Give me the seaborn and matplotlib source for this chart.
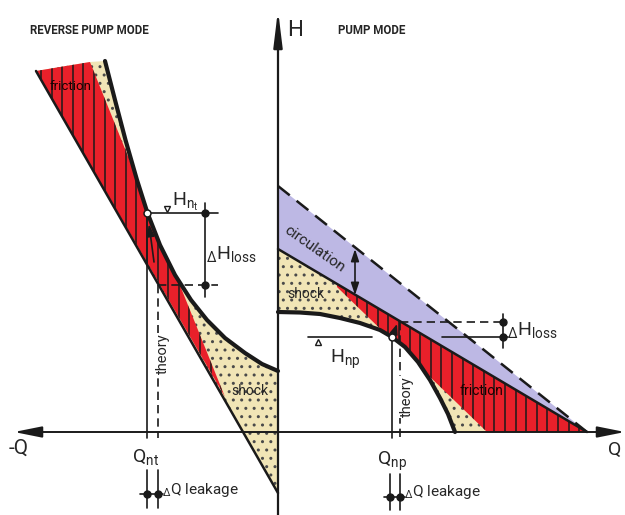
import numpy as np
import matplotlib
matplotlib.use('Agg')
import matplotlib.pyplot as plt
import seaborn as sns

# ---------------- data (schematic units: x to the right, y downward) ----------------
# Reverse pump mode (left half)
rev_theory_x = [36, 278]
rev_theory_y = [71, 493]
rev_friction_x = [90, 225]
rev_friction_y = [62, 397]
rev_curve_x = [105, 115, 125.5, 137, 147.5, 160, 175, 191, 207, 225, 245, 262, 278]
rev_curve_y = [61, 100, 140, 180, 213, 245, 275, 300, 320, 338, 353, 364, 371]

# Pump mode (right half)
pump_circ_x = [278, 587]
pump_circ_y = [186, 432]
pump_theory_x = [278, 587]
pump_theory_y = [249, 432]
pump_friction_x = [337, 487]
pump_friction_y = [287, 432]
pump_curve_x = [278, 300, 320, 340, 360, 380, 392, 405, 418, 430, 440, 448, 455]
pump_curve_y = [312, 312.5, 314, 318, 323, 330, 337, 347, 362, 380, 398, 414, 432]

# Axes / operating points
q_axis_y = 432
h_axis_x = 278
rev_Qn, rev_Qth = 147, 158
rev_Hn, rev_Hth = 213, 285
rev_dH_x = 205
pump_Qn, pump_Qth = 392, 400
pump_Hn, pump_Hth = 337, 322
pump_dH_x = 503
leak_y = 494

RED = '#e8202a'
BEIGE = '#f1e5b6'
LAV = '#bdb8e4'

sns.set_theme(style='white')
plt.rcParams['font.family'] = ['Roboto', 'DejaVu Sans']
plt.rcParams['mathtext.fontset'] = 'custom'
plt.rcParams['mathtext.rm'] = 'Roboto'
plt.rcParams['mathtext.it'] = 'Roboto'
plt.rcParams['mathtext.bf'] = 'Roboto:bold'
plt.rcParams['hatch.linewidth'] = 1.0

fig = plt.figure(figsize=(6.25, 5.15), dpi=100)
ax = fig.add_axes([0, 0, 1, 1])
ax.set_xlim(0, 625)
ax.set_ylim(515, 0)
ax.axis('off')

# ---------------- left: shock (beige) ----------------
lbx = [rev_theory_x[0], rev_friction_x[0]] + rev_curve_x + [h_axis_x, rev_theory_x[1]]
lby = [rev_theory_y[0], rev_friction_y[0]] + rev_curve_y + [rev_theory_y[1], rev_theory_y[1]]
ax.fill(lbx, lby, facecolor=BEIGE, edgecolor='#4a4a4a', lw=0, hatch='..', zorder=1)

# left: friction (red)
ys = np.linspace(rev_friction_y[0], rev_friction_y[1], 300)
l2x = np.interp(ys, rev_friction_y, rev_friction_x)
cx = np.interp(ys, rev_curve_y, rev_curve_x)
rx = np.minimum(l2x, cx)
lrx = [rev_theory_x[0]] + list(rx)
lry = [rev_theory_y[0]] + list(ys)
red_left = ax.fill(lrx, lry, facecolor=RED, lw=0, zorder=2)[0]
hl = ax.vlines(np.arange(41, 226, 10.6), 0, 515, colors='k', lw=1.1, zorder=3)
hl.set_clip_path(red_left)

# ---------------- right: circulation (lavender) ----------------
xr = np.linspace(pump_circ_x[0], pump_circ_x[1], 300)
c_top = np.interp(xr, pump_circ_x, pump_circ_y)
t_line = np.interp(xr, pump_theory_x, pump_theory_y)
ax.fill(list(xr) + list(xr[::-1]), list(c_top) + list(t_line[::-1]),
        facecolor=LAV, lw=0, zorder=1)

# right: shock (beige)
cv = np.minimum(np.interp(xr, pump_curve_x, pump_curve_y), q_axis_y)
ax.fill(list(xr) + list(xr[::-1]), list(t_line) + list(cv[::-1]),
        facecolor=BEIGE, edgecolor='#4a4a4a', lw=0, hatch='..', zorder=1)

# right: friction (red)
xf = np.linspace(pump_friction_x[0], pump_circ_x[1], 300)
f_top = np.interp(xf, pump_theory_x, pump_theory_y)
f_bot = np.minimum(np.minimum(np.interp(xf, pump_friction_x, pump_friction_y),
                              np.interp(xf, pump_curve_x, pump_curve_y)), q_axis_y)
red_right = ax.fill(list(xf) + list(xf[::-1]), list(f_top) + list(f_bot[::-1]),
                    facecolor=RED, lw=0, zorder=2)[0]
hr = ax.vlines(np.arange(346, 587, 10.6), 0, 515, colors='k', lw=1.1, zorder=3)
hr.set_clip_path(red_right)

# ---------------- main lines ----------------
sns.lineplot(x=rev_theory_x, y=rev_theory_y, ax=ax, color='k', lw=1.8, sort=False, estimator=None, zorder=5)
sns.lineplot(x=rev_curve_x, y=rev_curve_y, ax=ax, color='k', lw=3.0, sort=False, estimator=None, zorder=5)
sns.lineplot(x=pump_circ_x, y=pump_circ_y, ax=ax, color='k', lw=1.8, sort=False, estimator=None,
             linestyle=(0, (6, 3.5)), zorder=5)
sns.lineplot(x=pump_theory_x, y=pump_theory_y, ax=ax, color='k', lw=1.8, sort=False, estimator=None, zorder=5)
sns.lineplot(x=pump_curve_x, y=pump_curve_y, ax=ax, color='k', lw=3.0, sort=False, estimator=None, zorder=5)

# ---------------- axes ----------------
ax.annotate('', xy=(14, q_axis_y), xytext=(625, q_axis_y),
            arrowprops=dict(arrowstyle='<|-|>,head_length=1.4,head_width=0.28', lw=1.4, color='k',
                            shrinkA=0, shrinkB=0), zorder=6)
ax.annotate('', xy=(h_axis_x, 10), xytext=(h_axis_x, 515),
            arrowprops=dict(arrowstyle='-|>,head_length=1.8,head_width=0.22', lw=1.6, color='k',
                            shrinkA=0, shrinkB=0), zorder=6)

dash = (0, (5, 3))
kw = dict(color='k', lw=1.2, zorder=6)
# left operating point construction
ax.plot([rev_Qn, rev_Qn], [rev_Hn, 438], **kw)
ax.plot([rev_Qth, rev_Qth], [rev_Hth, 438], ls=dash, **kw)
ax.plot([rev_Qn, 218], [rev_Hn, rev_Hn], **kw)
ax.plot([rev_Qth, 218], [rev_Hth, rev_Hth], ls=dash, **kw)
ax.plot([rev_dH_x, rev_dH_x], [203, 297], **kw)
ax.plot([rev_dH_x, rev_dH_x], [rev_Hn, rev_Hth], 'o', color='k', ms=5, zorder=7)
ax.plot([167], [209], 'v', mfc='white', mec='k', ms=4.5, mew=1, zorder=7)
ax.annotate('', xy=(149, 224), xytext=(154, 262),
            arrowprops=dict(arrowstyle='-|>,head_length=0.6,head_width=0.2', lw=1.2, color='k',
                            shrinkA=0, shrinkB=0), zorder=6)
ax.plot([rev_Qn], [rev_Hn], 'o', mfc='white', mec='k', ms=5, mew=1.1, zorder=8)

# left leakage
ax.plot([rev_Qn, rev_Qn], [470, 508], **kw)
ax.plot([rev_Qth, rev_Qth], [470, 508], **kw)
ax.plot([140, 163], [leak_y, leak_y], **kw)
ax.plot([rev_Qn, rev_Qth], [leak_y, leak_y], 'o', color='k', ms=5, zorder=7)

# right operating point construction
ax.plot([pump_Qn, pump_Qn], [pump_Hn, 438], **kw)
ax.plot([pump_Qth, pump_Qth], [pump_Hth, 438], ls=dash, **kw)
ax.plot([308, 372], [pump_Hn, pump_Hn], **kw)
ax.plot([442, 508], [pump_Hn, pump_Hn], **kw)
ax.plot([pump_Qth, 503], [pump_Hth, pump_Hth], ls=dash, **kw)
ax.plot([pump_dH_x, pump_dH_x], [314, 348], **kw)
ax.plot([pump_dH_x, pump_dH_x], [pump_Hth, pump_Hn], 'o', color='k', ms=5, zorder=7)
ax.plot([318], [342], '^', mfc='white', mec='k', ms=4.5, mew=1, zorder=7)
ax.annotate('', xy=(397, 324), xytext=(393, 336),
            arrowprops=dict(arrowstyle='-|>,head_length=0.5,head_width=0.2', lw=1.2, color='k',
                            shrinkA=0, shrinkB=0), zorder=6)
ax.plot([pump_Qn], [pump_Hn], 'o', mfc='white', mec='k', ms=5, mew=1.1, zorder=8)
# circulation double arrow
ax.annotate('', xy=(355, 249), xytext=(355, 295),
            arrowprops=dict(arrowstyle='<|-|>,head_length=0.6,head_width=0.2', lw=1.2, color='k',
                            shrinkA=0, shrinkB=0), zorder=6)

# right leakage
ax.plot([pump_Qn - 2, pump_Qn - 2], [474, 510], **kw)
ax.plot([pump_Qth, pump_Qth], [474, 510], **kw)
ax.plot([384, 405], [497, 497], **kw)
ax.plot([pump_Qn - 2, pump_Qth], [497, 497], 'o', color='k', ms=5, zorder=7)

# ---------------- texts ----------------
ax.text(30, 31, 'REVERSE PUMP MODE', fontsize=8.3, fontweight='bold', ha='left', va='center')
ax.text(338, 31, 'PUMP MODE', fontsize=8.3, fontweight='bold', ha='left', va='center')
ax.text(287, 30, 'H', fontsize=16, ha='left', va='center')
ax.text(9, 448, '-Q', fontsize=15, ha='left', va='center')
ax.text(608, 450, 'Q', fontsize=14, ha='left', va='center')

ax.text(132, 457, r'$\mathregular{Q_{nt}}$', fontsize=14, ha='left', va='center')
ax.text(377, 461, r'$\mathregular{Q_{np}}$', fontsize=14, ha='left', va='center')
ax.text(162, 490, r'$_{Δ}$Q leakage', fontsize=11, ha='left', va='center')
ax.text(404, 492, r'$_{Δ}$Q leakage', fontsize=11, ha='left', va='center')

ax.text(172, 202, r'$\mathregular{H_{n_t}}$', fontsize=14, ha='left', va='center', zorder=9)
ax.text(206, 254, r'$_{Δ}\mathregular{H_{loss}}$', fontsize=14, ha='left', va='center', zorder=9)
ax.text(507, 330, r'$_{Δ}\mathregular{H_{loss}}$', fontsize=14, ha='left', va='center', zorder=9)
ax.text(330, 359, r'$\mathregular{H_{np}}$', fontsize=14, ha='left', va='center', zorder=9)

ax.text(71, 86, 'friction', fontsize=9.5, ha='center', va='center', color='#1a0000', zorder=9)
ax.text(481, 391, 'friction', fontsize=10, ha='center', va='center', color='#1a0000', zorder=9)
ax.text(250, 391, 'shock', fontsize=10, ha='center', va='center', zorder=9)
ax.text(306, 294, 'shock', fontsize=10, ha='center', va='center', zorder=9)
ax.text(314, 249, 'circulation', fontsize=11, ha='center', va='center', rotation=-35,
        rotation_mode='anchor', zorder=9)
ax.text(163, 354, 'theory', fontsize=10.5, ha='center', va='center', rotation=90, zorder=9,
        bbox=dict(facecolor='white', edgecolor='none', pad=0.5))
ax.text(407, 397, 'theory', fontsize=10.5, ha='center', va='center', rotation=90, zorder=9,
        bbox=dict(facecolor='white', edgecolor='none', pad=0.5))

fig.savefig('out.png', dpi=100)
